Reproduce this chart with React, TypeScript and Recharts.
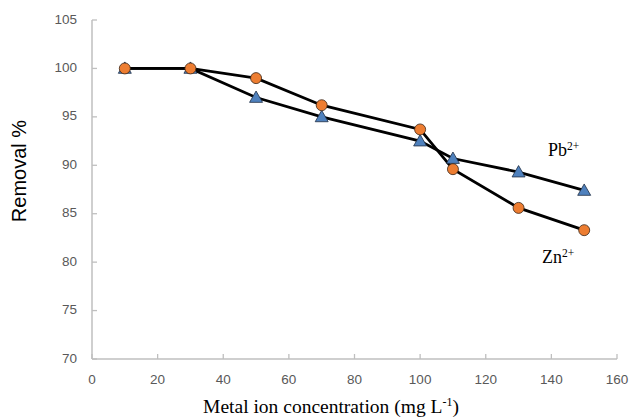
import { LineChart, Line, XAxis, YAxis } from 'recharts'

// ─── Data ────────────────────────────────────────────────────────────────────

const concentrations = [10, 30, 50, 70, 100, 110, 130, 150]
const pbRemoval = [100, 100, 97, 95, 92.5, 90.7, 89.3, 87.4]
const znRemoval = [100, 100, 99, 96.2, 93.7, 89.6, 85.6, 83.3]

const xTicks = [0, 20, 40, 60, 80, 100, 120, 140, 160]
const yTicks = [70, 75, 80, 85, 90, 95, 100, 105]

const data = concentrations.map((c, i) => ({ c, pb: pbRemoval[i], zn: znRemoval[i] }))

// ─── Styling ─────────────────────────────────────────────────────────────────

const W = 630
const H = 418
const AXIS = '#bfbfbf'
const TICK_TEXT = '#595959'
const TICK_FONT = '"Liberation Sans", Arial, sans-serif'
const SERIF = '"Liberation Serif", "Times New Roman", serif'

// ticks in the reference point inward, so draw them ourselves
function XTick({ x, y, payload }: any) {
  return (
    <g>
      <line x1={x} x2={x} y1={y} y2={y - 5} stroke={AXIS} strokeWidth={1.3} />
      <text x={x} y={y + 21} textAnchor="middle" dominantBaseline="middle"
        fontSize={13.5} fontFamily={TICK_FONT} fill={TICK_TEXT}>
        {payload.value}
      </text>
    </g>
  )
}

function YTick({ x, y, payload }: any) {
  return (
    <g>
      <line x1={x} x2={x + 5} y1={y} y2={y} stroke={AXIS} strokeWidth={1.3} />
      <text x={x - 15} y={y} textAnchor="end" dominantBaseline="middle"
        fontSize={13.5} fontFamily={TICK_FONT} fill={TICK_TEXT}>
        {payload.value}
      </text>
    </g>
  )
}

function Triangle({ cx, cy }: any) {
  if (cx == null || cy == null) return null
  const s = 6.5
  return (
    <path
      d={`M${cx},${cy - s} L${cx + s},${cy + s * 0.75} L${cx - s},${cy + s * 0.75} Z`}
      fill="#4f81bd" stroke="#1f2f45" strokeWidth={0.8}
    />
  )
}

function Circle({ cx, cy }: any) {
  if (cx == null || cy == null) return null
  return <circle cx={cx} cy={cy} r={5.5} fill="#ed7d31" stroke="#3a2515" strokeWidth={0.8} />
}

export default function App() {
  return (
    <div style={{ position: 'absolute', left: 0, top: 0, width: W, height: H, background: '#fff' }}>
      <LineChart width={W} height={H} data={data}
        margin={{ top: 20, right: 13, bottom: 0, left: 0 }}>
        <XAxis
          dataKey="c"
          type="number"
          domain={[0, 160]}
          ticks={xTicks}
          interval={0}
          height={59}
          tickSize={0}
          tickMargin={0}
          tickLine={false}
          axisLine={{ stroke: AXIS, strokeWidth: 1.5 }}
          tick={<XTick />}
        />
        <YAxis
          type="number"
          domain={[70, 105]}
          ticks={yTicks}
          interval={0}
          width={92}
          tickSize={0}
          tickMargin={0}
          tickLine={false}
          axisLine={{ stroke: AXIS, strokeWidth: 1.5 }}
          tick={<YTick />}
        />
        <Line dataKey="pb" stroke="#000" strokeWidth={2.8} dot={<Triangle />}
          activeDot={false} isAnimationActive={false} />
        <Line dataKey="zn" stroke="#000" strokeWidth={2.8} dot={<Circle />}
          activeDot={false} isAnimationActive={false} />
      </LineChart>
      <svg width={W} height={H} style={{ position: 'absolute', left: 0, top: 0, pointerEvents: 'none' }}>
        <text x={548} y={156} fontFamily={SERIF} fontSize={18} fill="#000">
          Pb<tspan dy={-6} fontSize={11.5}>2+</tspan>
        </text>
        <text x={542} y={263} fontFamily={SERIF} fontSize={18} fill="#000">
          Zn<tspan dy={-6} fontSize={11.5}>2+</tspan>
        </text>
        <text x={331} y={413} textAnchor="middle" fontFamily={SERIF} fontSize={19.5} fill="#000">
          Metal ion concentration (mg L<tspan dy={-7} fontSize={12}>-1</tspan><tspan dy={7}>)</tspan>
        </text>
        <text x={26} y={171} textAnchor="middle" transform="rotate(-90 26 171)"
          fontFamily={TICK_FONT} fontSize={20} fill="#000">
          Removal %
        </text>
      </svg>
    </div>
  )
}
